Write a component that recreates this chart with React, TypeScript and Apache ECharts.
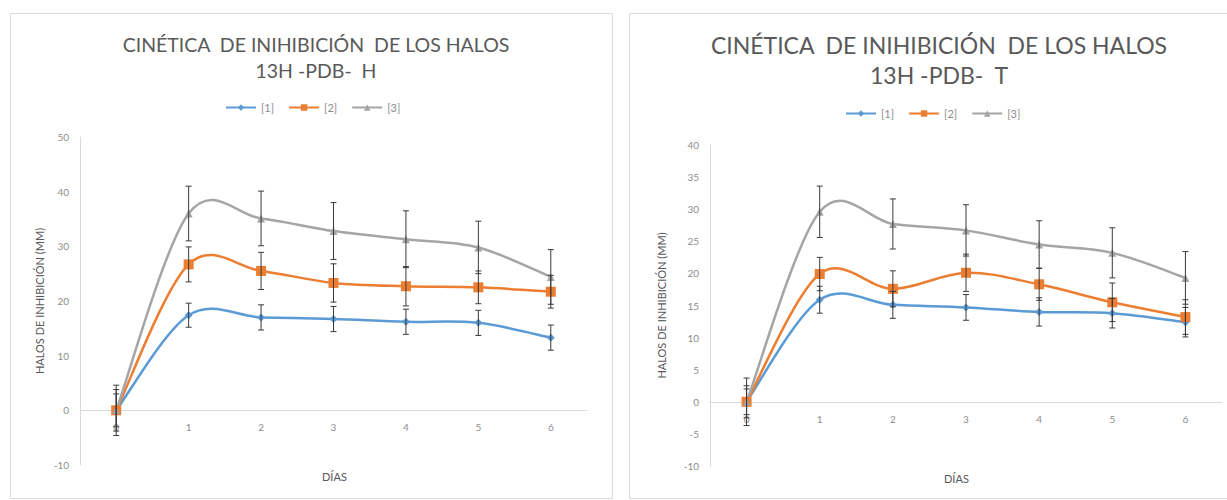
import React, { useEffect, useRef } from "react";
import * as echarts from "echarts";

const DAYS = ["0", "1", "2", "3", "4", "5", "6"];
const SERIES_NAMES = ["[1]", "[2]", "[3]"];
const COLORS = ["#5B9BD5", "#ED7D31", "#A5A5A5"];
const SYMBOLS = ["diamond", "rect", "triangle"];

// Left chart: 13H -PDB- H
const H1 = [0, 17.4, 17.0, 16.7, 16.2, 16.0, 13.3];
const H1_ERR = [3.0, 2.2, 2.3, 2.3, 2.3, 2.3, 2.3];
const H2 = [0, 26.7, 25.5, 23.3, 22.7, 22.5, 21.7];
const H2_ERR = [4.6, 3.2, 3.4, 3.5, 3.6, 3.0, 3.0];
const H3 = [0, 36.0, 35.1, 32.8, 31.3, 29.8, 24.4];
const H3_ERR = [3.8, 5.0, 5.0, 5.2, 5.2, 4.8, 5.0];

// Right chart: 13H -PDB- T
const T1 = [0, 15.9, 15.1, 14.7, 14.0, 13.8, 12.4];
const T1_ERR = [2.5, 2.1, 2.1, 2.0, 2.2, 2.3, 2.3];
const T2 = [0, 19.9, 17.6, 20.1, 18.3, 15.5, 13.2];
const T2_ERR = [2.0, 2.6, 2.8, 2.9, 2.5, 3.0, 2.7];
const T3 = [0, 29.6, 27.7, 26.7, 24.5, 23.2, 19.3];
const T3_ERR = [3.7, 4.0, 3.9, 4.0, 3.7, 3.9, 4.1];

const TITLE_1 = "CINÉTICA  DE INIHIBICIÓN  DE LOS HALOS";
const SUB_H = "13H -PDB-  H";
const SUB_T = "13H -PDB-  T";
const Y_NAME = "HALOS DE INHIBICIÓN (MM)";
const X_NAME = "DÍAS";

const FONT = "Lato, 'Open Sans', sans-serif";

export default function App() {
  const ref = useRef<HTMLDivElement>(null);
  useEffect(() => {
    document.body.style.margin = "0";
    if (!ref.current) return;
    const chart = echarts.init(ref.current, null, { renderer: "svg" });

    const grids = [
      { left: 80, top: 137, width: 507, height: 328 },
      { left: 710, top: 145, width: 512, height: 321 },
    ];

    // markers (and legend entries); the line itself is drawn by the curve series
    const makeMarkers = (name: string, idx: number, data: number[], g: number) => ({
      type: "line",
      name,
      xAxisIndex: g,
      yAxisIndex: g,
      data,
      symbol: SYMBOLS[idx],
      symbolSize: idx === 1 ? 10 : 8,
      lineStyle: { color: COLORS[idx], width: 2.5, opacity: 0 },
      itemStyle: { color: COLORS[idx] },
      z: 4,
    });

    // Excel-like smoothed line (Catmull-Rom Bezier) through the data via axis coords
    const makeCurve = (idx: number, vals: number[], g: number) => ({
      type: "custom",
      name: "curve",
      xAxisIndex: g,
      yAxisIndex: g,
      data: vals.slice(0, vals.length - 1).map((v, i) => [i, v]),
      encode: { x: 0, y: 1 },
      silent: true,
      z: 3,
      renderItem: (params: any, api: any) => {
        const i = params.dataIndex;
        const n = vals.length;
        const pt = (k: number) => {
          const kk = Math.max(0, Math.min(n - 1, k));
          return api.coord([kk, vals[kk]]);
        };
        const p0 = pt(i - 1);
        const p1 = pt(i);
        const p2 = pt(i + 1);
        const p3 = pt(i + 2);
        const c1 = [p1[0] + (p2[0] - p0[0]) / 6, p1[1] + (p2[1] - p0[1]) / 6];
        const c2 = [p2[0] - (p3[0] - p1[0]) / 6, p2[1] - (p3[1] - p1[1]) / 6];
        return {
          type: "bezierCurve",
          shape: { x1: p1[0], y1: p1[1], cpx1: c1[0], cpy1: c1[1], cpx2: c2[0], cpy2: c2[1], x2: p2[0], y2: p2[1] },
          style: { stroke: COLORS[idx], lineWidth: 2.5, fill: "none" },
        };
      },
    });

    const makeErr = (vals: number[], errs: number[], g: number) => ({
      type: "custom",
      name: "err",
      xAxisIndex: g,
      yAxisIndex: g,
      data: vals.map((v, i) => [i, v, errs[i]]),
      encode: { x: 0, y: 1 },
      silent: true,
      z: 5,
      renderItem: (params: any, api: any) => {
        const x = api.value(0);
        const y = api.value(1);
        const e = api.value(2);
        const top = api.coord([x, y + e]);
        const bot = api.coord([x, y - e]);
        const hw = 3;
        const style = { stroke: "#3a3a3a", lineWidth: 1 };
        return {
          type: "group",
          children: [
            { type: "line", shape: { x1: top[0], y1: top[1], x2: bot[0], y2: bot[1] }, style },
            { type: "line", shape: { x1: top[0] - hw, y1: top[1], x2: top[0] + hw, y2: top[1] }, style },
            { type: "line", shape: { x1: bot[0] - hw, y1: bot[1], x2: bot[0] + hw, y2: bot[1] }, style },
          ],
        };
      },
    });

    const xAxisBase = (g: number, offset: number) => ({
      type: "category",
      gridIndex: g,
      data: DAYS,
      boundaryGap: true,
      offset,
      axisLine: { onZero: false, lineStyle: { color: "#d9d9d9", width: 1 } },
      axisTick: { show: false },
      axisLabel: { color: "#8c8c8c", fontSize: 10, fontFamily: FONT, margin: 12 },
      splitLine: { show: false },
    });

    const yAxisBase = (g: number, min: number, max: number, interval: number) => ({
      type: "value",
      gridIndex: g,
      min,
      max,
      interval,
      name: Y_NAME,
      nameLocation: "middle",
      nameGap: g === 0 ? 35 : 43,
      nameTextStyle: { color: "#595959", fontSize: 11, fontFamily: FONT },
      axisLine: { show: true, lineStyle: { color: "#d9d9d9", width: 1 } },
      axisTick: { show: false },
      axisLabel: { color: "#8c8c8c", fontSize: 10, fontFamily: FONT, margin: 11 },
      splitLine: { show: false },
    });

    const legendBase = (left: number, top: number) => ({
      data: SERIES_NAMES,
      left,
      top,
      itemWidth: 30,
      itemHeight: 8,
      itemGap: 14,
      lineStyle: { opacity: 1 },
      textStyle: { color: "#8c8c8c", fontSize: 11, fontFamily: FONT },
    });

    const option: any = {
      animation: false,
      backgroundColor: "#ffffff",
      title: [
        {
          text: TITLE_1 + "\n" + SUB_H,
          left: 311,
          top: 26,
          textAlign: "center",
          textStyle: { color: "#595959", fontSize: 19.5, fontWeight: "normal", fontFamily: FONT, lineHeight: 26 },
        },
        {
          text: TITLE_1 + "\n" + SUB_T,
          left: 934,
          top: 25,
          textAlign: "center",
          textStyle: { color: "#595959", fontSize: 23, fontWeight: "normal", fontFamily: FONT, lineHeight: 30 },
        },
      ],
      legend: [legendBase(220, 97), legendBase(840, 103)],
      grid: grids,
      xAxis: [xAxisBase(0, -328 / 6), xAxisBase(1, -321 / 5)],
      yAxis: [yAxisBase(0, -10, 50, 10), yAxisBase(1, -10, 40, 5)],
      graphic: [
        { type: "rect", shape: { x: 10.5, y: 13.5, width: 602, height: 485 }, style: { fill: "none", stroke: "#d9d9d9", lineWidth: 1 }, silent: true, z: -1 },
        { type: "rect", shape: { x: 629.5, y: 13.5, width: 620, height: 485 }, style: { fill: "none", stroke: "#d9d9d9", lineWidth: 1 }, silent: true, z: -1 },
        { type: "text", left: 322, top: 471, style: { text: X_NAME, fill: "#595959", fontSize: 11, fontFamily: FONT } },
        { type: "text", left: 944, top: 473, style: { text: X_NAME, fill: "#595959", fontSize: 11, fontFamily: FONT } },
      ],
      series: [
        makeCurve(0, H1, 0),
        makeCurve(1, H2, 0),
        makeCurve(2, H3, 0),
        makeMarkers(SERIES_NAMES[0], 0, H1, 0),
        makeMarkers(SERIES_NAMES[1], 1, H2, 0),
        makeMarkers(SERIES_NAMES[2], 2, H3, 0),
        makeErr(H1, H1_ERR, 0),
        makeErr(H2, H2_ERR, 0),
        makeErr(H3, H3_ERR, 0),
        makeCurve(0, T1, 1),
        makeCurve(1, T2, 1),
        makeCurve(2, T3, 1),
        makeMarkers(SERIES_NAMES[0], 0, T1, 1),
        makeMarkers(SERIES_NAMES[1], 1, T2, 1),
        makeMarkers(SERIES_NAMES[2], 2, T3, 1),
        makeErr(T1, T1_ERR, 1),
        makeErr(T2, T2_ERR, 1),
        makeErr(T3, T3_ERR, 1),
      ],
    };

    chart.setOption(option);
    return () => chart.dispose();
  }, []);

  return <div ref={ref} style={{ width: 1227, height: 500 }} />;
}
